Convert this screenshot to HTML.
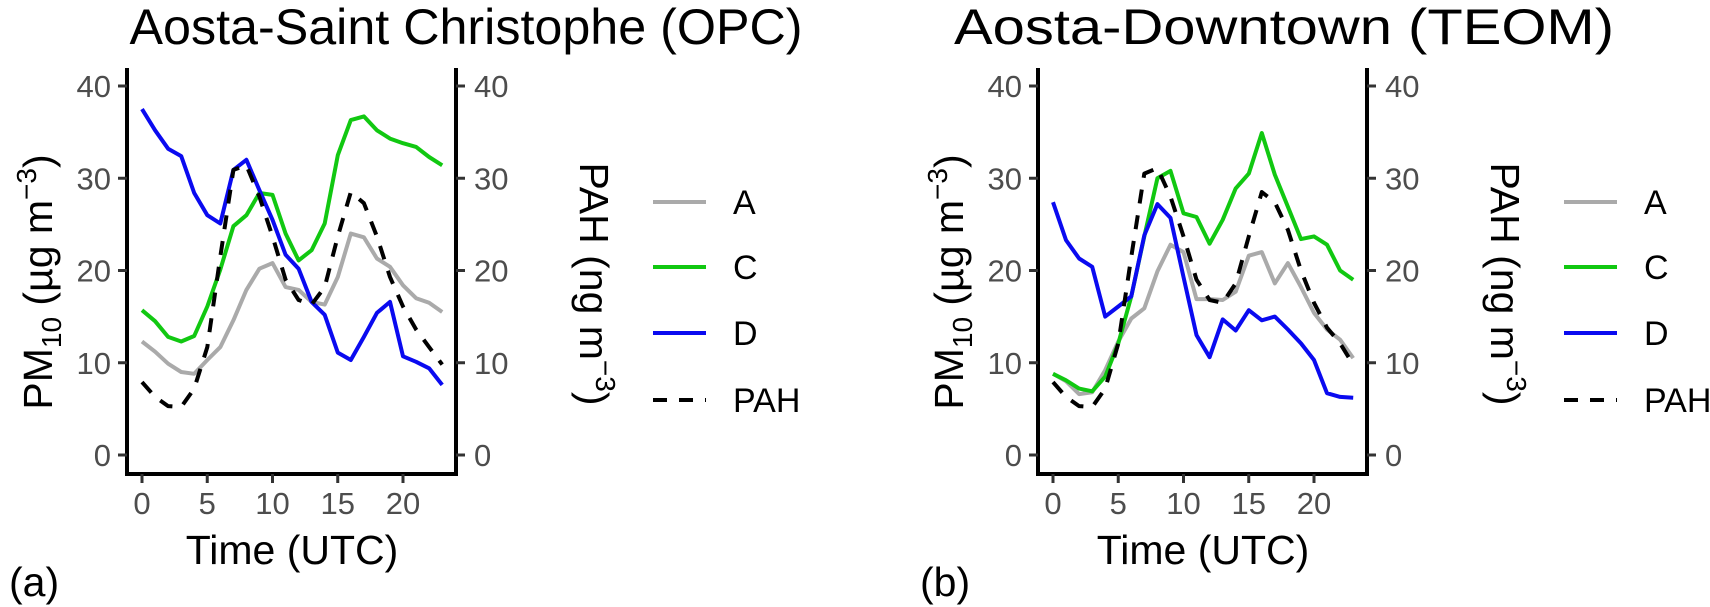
<!DOCTYPE html>
<html><head><meta charset="utf-8"><style>
html,body{margin:0;padding:0;background:#fff;}
svg{display:block;font-family:"Liberation Sans",Arial,sans-serif;}
</style></head><body>
<svg id="chart" width="1710" height="607" viewBox="0 0 1710 607"></svg>
<script>
const hours = [0,1,2,3,4,5,6,7,8,9,10,11,12,13,14,15,16,17,18,19,20,21,22,23];
const yTicks = [0,10,20,30,40];
const xTicks = [0,5,10,15,20];
const aA = [12.3,11.2,9.9,9.0,8.8,10.3,11.7,14.6,17.9,20.2,20.8,18.2,17.9,16.6,16.3,19.3,24.0,23.6,21.3,20.4,18.4,17.0,16.5,15.5];
const aC = [15.7,14.5,12.8,12.3,12.9,16.1,20.1,24.8,26.0,28.4,28.2,24.0,21.1,22.2,25.1,32.5,36.3,36.7,35.2,34.3,33.8,33.4,32.3,31.4];
const aD = [37.5,35.2,33.2,32.4,28.4,26.0,25.1,30.9,32.0,28.7,25.5,21.7,20.2,16.6,15.2,11.1,10.3,12.8,15.4,16.6,10.7,10.1,9.4,7.6];
const aPAH = [7.9,6.3,5.3,5.2,7.2,11.7,21.5,30.9,31.4,28.0,23.7,19.0,16.8,16.3,18.2,23.7,28.5,27.3,23.7,19.3,16.1,13.6,11.7,9.8];
const bA = [8.8,8.0,6.6,6.8,9.2,12.3,14.8,15.9,19.9,22.8,22.0,16.9,16.9,16.8,17.7,21.6,22.0,18.6,20.8,18.2,15.4,13.6,12.5,10.5];
const bC = [8.8,8.1,7.2,6.9,8.5,12.1,17.2,23.7,30.0,30.8,26.2,25.8,22.9,25.5,28.9,30.5,34.9,30.4,26.9,23.4,23.7,22.8,20.0,19.0];
const bD = [27.4,23.3,21.3,20.4,15.0,16.1,17.2,23.8,27.2,25.7,19.3,13.0,10.6,14.7,13.5,15.7,14.6,15.0,13.6,12.1,10.3,6.7,6.3,6.2];
const bPAH = [7.9,6.3,5.3,5.2,7.2,12.1,21.5,30.5,31.1,28.0,23.7,19.0,16.8,16.5,18.6,23.7,28.5,27.4,24.4,20.0,16.5,13.8,12.1,9.8];

const NS="http://www.w3.org/2000/svg";
const svg=document.getElementById('chart');
function mk(tag,attrs,parent,text){const e=document.createElementNS(NS,tag);for(const k in attrs)e.setAttribute(k,attrs[k]);if(text!==undefined)e.textContent=text;(parent||svg).appendChild(e);return e;}

const panels=[
 {off:0,title:"Aosta-Saint Christophe (OPC)",tx:466,tw:673,label:"(a)",A:aA,C:aC,D:aD,P:aPAH,key:'a'},
 {off:911,title:"Aosta-Downtown (TEOM)",tx:1284,tw:660,label:"(b)",A:bA,C:bC,D:bD,P:bPAH,key:'b'}
];
const colors={A:"#aaaaaa",C:"#11c811",D:"#0a0af0",P:"#000000"};

panels.forEach(p=>{
  const o=p.off;
  const g=mk('g',{},svg);
  
  
  const xs=h=>142+o+h*13.05;
  const ys=v=>455-v*9.225;
  const t=mk('text',{x:p.tx,y:44,'font-size':50,'text-anchor':'middle',fill:'#000',textLength:p.tw,lengthAdjust:'spacingAndGlyphs'},g,p.title);
  
  
  ['A','C','D','P'].forEach(s=>{
    const vals=p[s];
    const d=hours.map((h,i)=>(i?'L':'M')+xs(h).toFixed(1)+','+ys(vals[i]).toFixed(1)).join(' ');
    const attrs={d:d,fill:'none',stroke:colors[s],'stroke-width':4,'stroke-linejoin':'round'};
    if(s==='P'){attrs['stroke-dasharray']='14,12';}
    const pa=mk('path',attrs,g);
    
    
  });
  const ax=mk('path',{d:`M${127+o},68 V${474} H${456+o} V68`,fill:'none',stroke:'#000','stroke-width':4},g);
  
  
  yTicks.forEach(v=>{
    const y=ys(v);
    mk('line',{x1:118+o,x2:127+o,y1:y,y2:y,stroke:'#333','stroke-width':3},g);
    mk('line',{x1:456+o,x2:465+o,y1:y,y2:y,stroke:'#333','stroke-width':3},g);
    const l=mk('text',{x:111+o,y:y+11,'font-size':31,'text-anchor':'end',fill:'#4d4d4d'},g,String(v));
    
    
    const r=mk('text',{x:474+o,y:y+11,'font-size':31,'text-anchor':'start',fill:'#4d4d4d'},g,String(v));
    
    
  });
  xTicks.forEach(v=>{
    const x=xs(v);
    mk('line',{x1:x,x2:x,y1:474,y2:483,stroke:'#333','stroke-width':3},g);
    const l=mk('text',{x:x,y:514,'font-size':31,'text-anchor':'middle',fill:'#4d4d4d'},g,String(v));
    
    
  });
  const xt=mk('text',{x:292+o,y:564,'font-size':41,'text-anchor':'middle',fill:'#000'},g,'Time (UTC)');
  
  
  const yl=mk('text',{transform:`translate(${52+o},282) rotate(-90)`,'font-size':41,'text-anchor':'middle',fill:'#000'},g);
  
  
  mk('tspan',{},yl,'PM');
  mk('tspan',{'font-size':28,dy:9},yl,'10');
  mk('tspan',{dy:-9},yl,' (\u00b5g m');
  mk('tspan',{'font-size':28,dy:-16},yl,'\u22123');
  mk('tspan',{dy:16},yl,')');
  const yr=mk('text',{transform:`translate(${580+o},284) rotate(90)`,'font-size':41,'text-anchor':'middle',fill:'#000'},g);
  
  
  mk('tspan',{},yr,'PAH (ng m');
  mk('tspan',{'font-size':28,dy:-16},yr,'\u22123');
  mk('tspan',{dy:16},yr,')');
  const pl=mk('text',{x:9+o,y:596,'font-size':41,fill:'#000'},g,p.label);
  
  
  const names=['A','C','D','PAH'];const keys=['A','C','D','P'];
  const ly=[202,267,333,400];
  keys.forEach((k,i)=>{
    const lg=mk('g',{},g);
    
    
    const attrs={x1:653+o,x2:706+o,y1:ly[i],y2:ly[i],stroke:colors[k],'stroke-width':4};
    if(k==='P')attrs['stroke-dasharray']='14,12';
    mk('line',attrs,lg);
    mk('text',{x:733+o,y:ly[i]+12,'font-size':34,fill:'#000'},lg,names[i]);
  });
});
</script>
</body></html>
